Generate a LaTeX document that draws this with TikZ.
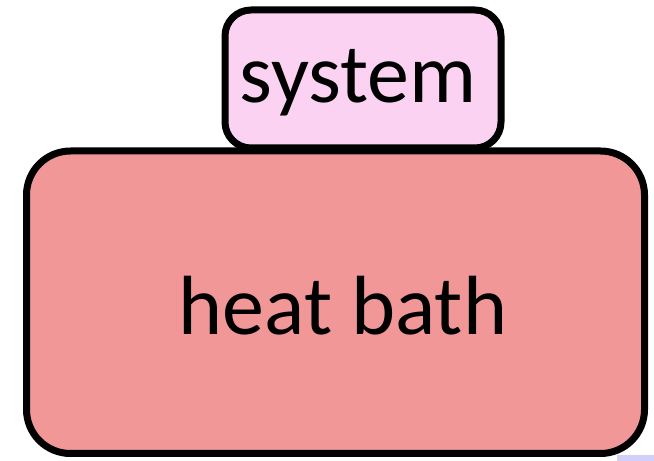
\documentclass[tikz,border=0pt]{standalone}
\usepackage{fontspec}
\setmainfont{Carlito}
\begin{document}
\begin{tikzpicture}[x=1pt,y=1pt,
  boxstyle/.style={draw=black,line width=7pt,rounded corners=44pt,inner sep=0pt},
  bigtext/.style={font=\fontsize{84}{90}\selectfont,inner sep=0pt,anchor=base}]
\useasboundingbox (0,0) rectangle (654,461);
\fill[fill={rgb,255:red,208;green,208;blue,248}] (617,0) rectangle (654,6);
\node[boxstyle,fill={rgb,255:red,241;green,151;blue,151},minimum width=618pt,minimum height=302.5pt] (bath) at (335.5,158.75) {};
\node[boxstyle,rounded corners=26pt,fill={rgb,255:red,251;green,210;blue,242},minimum width=276pt,minimum height=138pt] (sys) at (363,382) {};
\node[bigtext] (systext) at (358,358) {system};
\node[bigtext] (bathtext) at (343,126) {heat bath};
\end{tikzpicture}
\end{document}
